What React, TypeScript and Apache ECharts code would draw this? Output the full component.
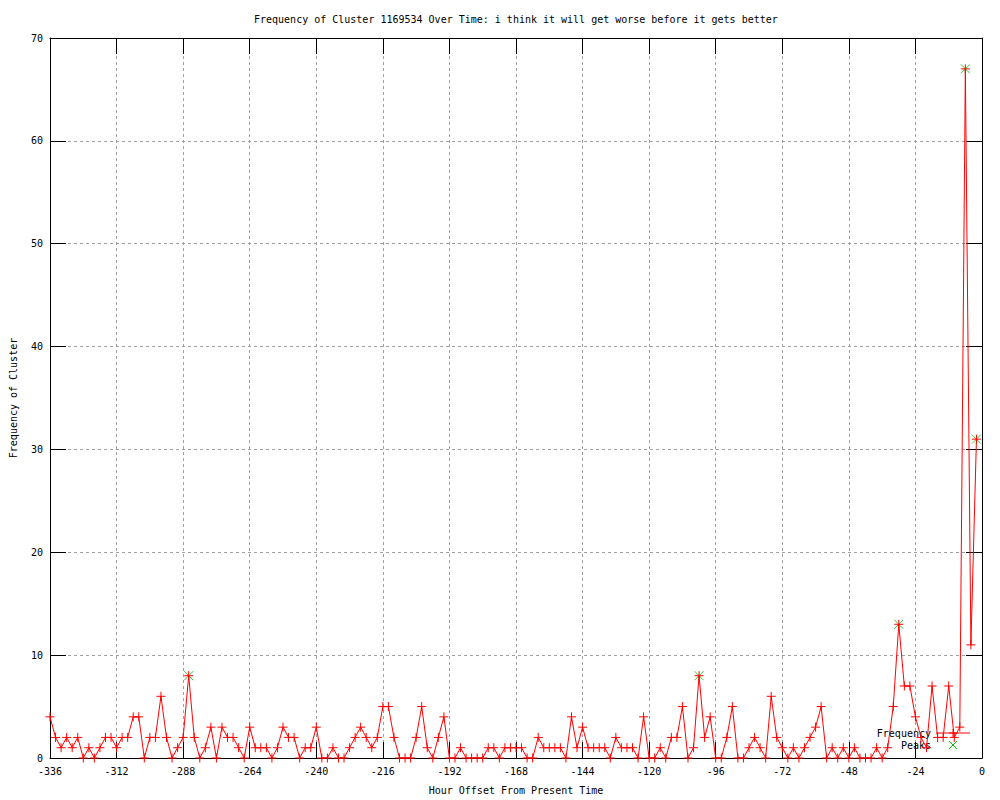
import React, { useEffect, useRef } from "react";
import * as echarts from "echarts";

const START_HOUR = -336;
const STEP_HOURS = 2;
const frequency = [
  4, 2, 1, 2, 1, 2, 0, 1, 0, 1, 2, 2, 1, 2, 2, 4, 4, 0, 2, 2, 6, 2, 0, 1, 2, 8, 2, 0, 1, 3, 0, 3, 2, 2, 1, 0,
  3, 1, 1, 1, 0, 1, 3, 2, 2, 0, 1, 1, 3, 0, 0, 1, 0, 0, 1, 2, 3, 2, 1, 2, 5, 5, 2, 0, 0, 0, 2, 5, 1, 0, 2, 4,
  0, 0, 1, 0, 0, 0, 0, 1, 1, 0, 1, 1, 1, 1, 0, 0, 2, 1, 1, 1, 1, 0, 4, 1, 3, 1, 1, 1, 1, 0, 2, 1, 1, 1, 0, 4,
  0, 0, 1, 0, 2, 2, 5, 0, 1, 8, 2, 4, 0, 0, 2, 5, 0, 0, 1, 2, 1, 0, 6, 2, 1, 0, 1, 0, 1, 2, 3, 5, 0, 1, 0, 1,
  0, 1, 0, 0, 0, 1, 0, 1, 5, 13, 7, 7, 4, 2, 1, 7, 2, 2, 7, 2, 3, 67, 11, 31,
];
const peakHours = [-286, -102, -30, -6, -2];
const xTicks = { min: -336, max: 0, interval: 24 };
const yTicks = { min: 0, max: 70, interval: 10 };
const titleText = "Frequency of Cluster 1169534 Over Time: i think it will get worse before it gets better";
const xName = "Hour Offset From Present Time";
const yName = "Frequency of Cluster";

const FONT = "DejaVu Sans Mono";
const PLUS = "path://M4,0 L4,8 M0,4 L8,4";
const CROSS = "path://M0,0 L8,8 M8,0 L0,8";

export default function App() {
  const ref = useRef<HTMLDivElement>(null);
  useEffect(() => {
    if (!ref.current) return;
    const chart = echarts.init(ref.current, null, { renderer: "svg" });
    const hours = frequency.map((_, i) => START_HOUR + i * STEP_HOURS);
    const lineData = hours.map((h, i) => [h, frequency[i]]);
    const peakData = peakHours.map((h) => [h, frequency[hours.indexOf(h)]]);
    const tickStyle = { inside: true, length: 16, lineStyle: { color: "#000", width: 1 } };
    const axisLine = { show: true, onZero: false, lineStyle: { color: "#000", width: 1 } };
    const labelStyle = { color: "#000", fontFamily: FONT, fontSize: 10 };
    const split = { show: true, lineStyle: { color: "#a0a0a0", width: 1, type: [3, 3] as any } };

    chart.setOption({
      animation: false,
      backgroundColor: "#fff",
      title: {
        text: titleText,
        left: 249,
        top: 9,
        textStyle: { fontFamily: FONT, fontSize: 10, fontWeight: "normal", color: "#000" },
      },
      grid: { left: 49, right: 18, top: 38, bottom: 40, containLabel: false },
      xAxis: [
        {
          type: "value",
          ...xTicks,
          position: "bottom",
          axisLine,
          axisTick: tickStyle,
          axisLabel: { ...labelStyle, margin: 8 },
          splitLine: split,
          name: xName,
          nameLocation: "middle",
          nameGap: 27,
          nameTextStyle: labelStyle,
        },
        {
          type: "value",
          ...xTicks,
          position: "top",
          axisLine,
          axisTick: tickStyle,
          axisLabel: { show: false },
          splitLine: { show: false },
        },
      ],
      yAxis: [
        {
          type: "value",
          ...yTicks,
          position: "left",
          axisLine,
          axisTick: tickStyle,
          axisLabel: { ...labelStyle, margin: 7 },
          splitLine: split,
          name: yName,
          nameLocation: "middle",
          nameGap: 32,
          nameTextStyle: labelStyle,
        },
        {
          type: "value",
          ...yTicks,
          position: "right",
          axisLine,
          axisTick: tickStyle,
          axisLabel: { show: false },
          splitLine: { show: false },
        },
      ],
      series: [
        {
          name: "Peaks",
          type: "scatter",
          data: peakData,
          symbol: CROSS,
          symbolSize: 9,
          itemStyle: { color: "none", borderColor: "#00c000", borderWidth: 1 },
          z: 2,
        },
        {
          name: "Frequency",
          type: "line",
          data: lineData,
          symbol: PLUS,
          symbolSize: 9,
          showSymbol: true,
          lineStyle: { color: "#ff0000", width: 1 },
          itemStyle: { color: "none", borderColor: "#ff0000", borderWidth: 1 },
          z: 3,
        },
      ],
      graphic: [
        {
          type: "text",
          x: 931,
          y: 733,
          style: { text: "Frequency", align: "right", verticalAlign: "middle", font: `10px "${FONT}"`, fill: "#000" },
        },
        { type: "line", shape: { x1: 936, y1: 733, x2: 970, y2: 733 }, style: { stroke: "#ff0000", lineWidth: 1 } },
        { type: "line", shape: { x1: 953, y1: 729, x2: 953, y2: 737 }, style: { stroke: "#ff0000", lineWidth: 1 } },
        { type: "line", shape: { x1: 949, y1: 733, x2: 957, y2: 733 }, style: { stroke: "#ff0000", lineWidth: 1 } },
        {
          type: "text",
          x: 931,
          y: 745,
          style: { text: "Peaks", align: "right", verticalAlign: "middle", font: `10px "${FONT}"`, fill: "#000" },
        },
        { type: "line", shape: { x1: 949, y1: 741, x2: 957, y2: 749 }, style: { stroke: "#00c000", lineWidth: 1 } },
        { type: "line", shape: { x1: 957, y1: 741, x2: 949, y2: 749 }, style: { stroke: "#00c000", lineWidth: 1 } },
      ],
    });
    return () => chart.dispose();
  }, []);
  return (
    <div
      ref={ref}
      style={{ position: "absolute", left: 0, top: 0, width: 1000, height: 800, background: "#fff" }}
    />
  );
}
